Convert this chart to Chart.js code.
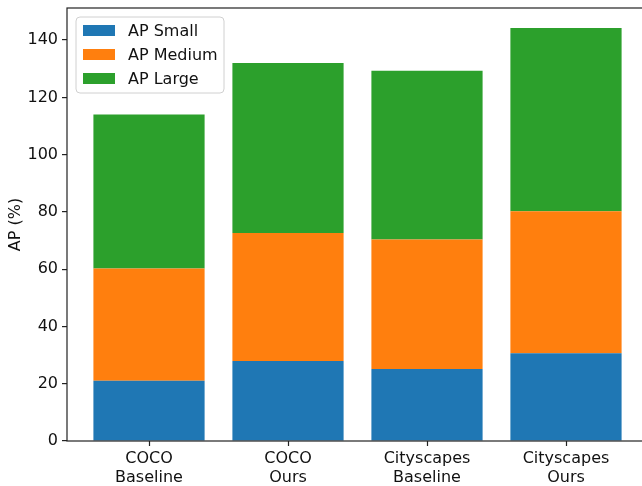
<!DOCTYPE html>
<html>
<head>
<meta charset="utf-8">
<script src="https://cdn.jsdelivr.net/npm/chart.js@4"></script>
<style>
  html, body { margin: 0; padding: 0; overflow: hidden; background: #fff; }
  canvas { display: block; }
</style>
</head>
<body>
<canvas id="apChart" width="660" height="486"></canvas>
<script>
// Data
const categories = [['COCO', 'Baseline'], ['COCO', 'Ours'], ['Cityscapes', 'Baseline'], ['Cityscapes', 'Ours']];
const apSmall = [21.0, 27.9, 25.1, 30.6];
const apMedium = [39.2, 44.7, 45.3, 49.6];
const apLarge = [53.8, 59.4, 58.9, 64.0];
const yTicks = [0, 20, 40, 60, 80, 100, 120, 140];

const FONT = 'DejaVu Sans';
const toPoints = arr => arr.map((v, i) => ({ x: i, y: v }));

// Frame (all four spines) plus the x tick marks, like matplotlib
const framePlugin = {
  id: 'frame',
  afterDatasetsDraw(chart) {
    const { ctx, chartArea: a } = chart;
    const xs = chart.scales.x;
    ctx.save();
    ctx.strokeStyle = '#222';
    ctx.lineWidth = 1.2;
    ctx.strokeRect(a.left, a.top, a.right - a.left, a.bottom - a.top);
    ctx.beginPath();
    xs.ticks.forEach(t => {
      const px = Math.round(xs.getPixelForValue(t.value)) + 0.5;
      ctx.moveTo(px, a.bottom);
      ctx.lineTo(px, a.bottom + 5);
    });
    ctx.stroke();
    ctx.restore();
  }
};

// Legend box drawn inside the plot, upper left
const insideLegend = {
  id: 'insideLegend',
  afterDraw(chart) {
    const { ctx, chartArea: a } = chart;
    const x0 = a.left + 9, y0 = a.top + 9;
    const w = 148, h = 76;
    ctx.save();
    ctx.beginPath();
    ctx.roundRect(x0, y0, w, h, 4);
    ctx.fillStyle = 'rgba(255,255,255,0.8)';
    ctx.fill();
    ctx.strokeStyle = '#d0d0d0';
    ctx.lineWidth = 1;
    ctx.stroke();
    ctx.font = '16px "' + FONT + '"';
    ctx.textBaseline = 'middle';
    chart.data.datasets.forEach((ds, i) => {
      const cy = y0 + 13.5 + i * 24;
      ctx.fillStyle = ds.backgroundColor;
      ctx.fillRect(x0 + 7, cy - 5.5, 32, 11);
      ctx.fillStyle = '#111';
      ctx.fillText(ds.label, x0 + 52, cy + 1);
    });
    ctx.restore();
  }
};

new Chart(document.getElementById('apChart'), {
  type: 'bar',
  data: {
    datasets: [
      { label: 'AP Small', data: toPoints(apSmall), backgroundColor: '#1f77b4' },
      { label: 'AP Medium', data: toPoints(apMedium), backgroundColor: '#ff7f0e' },
      { label: 'AP Large', data: toPoints(apLarge), backgroundColor: '#2ca02c' }
    ]
  },
  options: {
    responsive: false,
    animation: false,
    barPercentage: 0.8,
    categoryPercentage: 1.0,
    layout: { padding: { top: 8, right: 12, left: 0, bottom: 0 } },
    plugins: {
      legend: { display: false },
      tooltip: { enabled: false }
    },
    scales: {
      x: {
        type: 'linear',
        stacked: true,
        min: -0.59,
        max: 3.59,
        offset: false,
        afterBuildTicks: scale => { scale.ticks = categories.map((c, i) => ({ value: i })); },
        afterFit: scale => { scale.height = 45; scale.paddingLeft = 0; scale.paddingRight = 0; },
        border: { display: false },
        grid: { display: false },
        ticks: {
          autoSkip: false,
          maxRotation: 0,
          padding: 1,
          color: '#111',
          font: { family: FONT, size: 16, lineHeight: 1.15 },
          callback: v => categories[v]
        }
      },
      y: {
        stacked: true,
        min: 0,
        max: 151.2,
        afterBuildTicks: scale => { scale.ticks = yTicks.map(v => ({ value: v })); },
        afterFit: scale => { scale.width = 67; scale.paddingTop = 0; scale.paddingBottom = 0; },
        border: { display: false },
        grid: { drawOnChartArea: false, drawTicks: true, tickLength: 5, color: '#222', lineWidth: 1.2 },
        ticks: {
          padding: 4,
          color: '#111',
          font: { family: FONT, size: 16 }
        },
        title: {
          display: true,
          text: 'AP (%)',
          color: '#111',
          font: { family: FONT, size: 16, lineHeight: 2 },
          padding: { top: 0, bottom: 0 }
        }
      }
    }
  },
  plugins: [framePlugin, insideLegend]
});
</script>
</body>
</html>
